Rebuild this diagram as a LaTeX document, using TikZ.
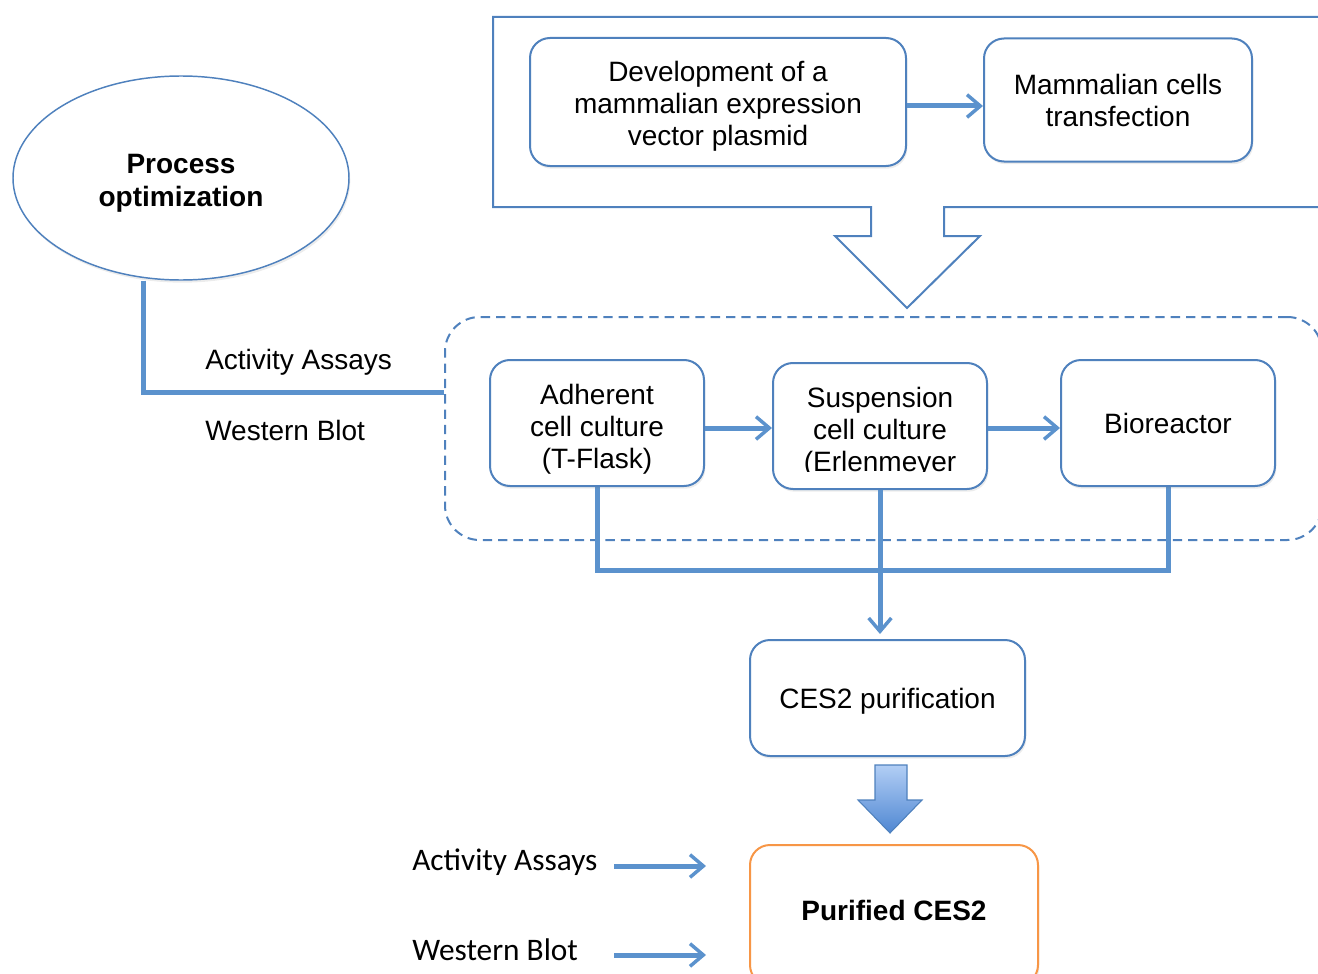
\documentclass[tikz,border=0pt]{standalone}
\usepackage{fontspec}
\setmainfont{Liberation Sans}
\newfontfamily\calfont{Carlito}
\usetikzlibrary{arrows.meta,shadows,shapes.geometric}
\definecolor{bord}{RGB}{79,129,189}
\definecolor{conn}{RGB}{91,146,205}
\definecolor{orng}{RGB}{247,150,70}
\definecolor{lblue}{RGB}{178,206,245}
\definecolor{dblue}{RGB}{79,135,210}
\begin{document}
\begin{tikzpicture}[x=0.75pt,y=-0.75pt,
 sz/.style 2 args={minimum width=#1*0.75pt,minimum height=#2*0.75pt},
 txt/.style={font=\fontsize{21}{24}\selectfont},
 btxt/.style={font=\bfseries\fontsize{21}{25}\selectfont},
 shd/.style={drop shadow={shadow xshift=1pt,shadow yshift=-2pt,opacity=0.15}},
 box/.style={draw=bord,line width=1.5pt,rounded corners=15pt,fill=white,align=center,inner sep=0pt,txt,shd},
 btext/.style={txt,align=center,inner sep=0pt},
 cline/.style={draw=conn,line width=3.75pt},
 arr/.style={cline,-{Straight Barb[length=10pt,width=17pt,line width=2.6pt]}},
 lbl/.style={txt,anchor=west,inner sep=0pt},
 clbl/.style={font=\calfont\fontsize{23.5}{28}\selectfont,anchor=west,inner sep=0pt},
]
\useasboundingbox (0,0) rectangle (1318,974);
\clip (0,0) rectangle (1318,974);

% top frame with hollow arrow
\draw[bord,line width=1.5pt] (1340,17) -- (493,17) -- (493,207) -- (871,207) -- (871,236) -- (835,236) -- (907,308) -- (980,236) -- (944,236) -- (944,207) -- (1340,207);

\node[box,sz={376}{128}] (dev) at (718,102) {};
\node[btext] (devT) at (718,106) {Development of a\\mammalian expression\\vector plasmid};
\node[box,sz={268}{123}] (mam) at (1118,100) {Mammalian cells\\transfection};
\draw[arr] (dev.east |- 0,106) -- (mam.west |- 0,106);

% process optimization
\node[draw=bord,line width=1.1pt,ellipse,sz={336}{204},inner sep=0pt,fill=white,shd] (ell) at (181,178) {};
\node[btxt,align=center,inner sep=0pt] (ellT) at (181,183) {Process\\optimization};

% dashed group
\node[draw=bord,line width=1.5pt,dash pattern=on 7pt off 4.5pt,rounded corners=26pt,sz={877}{223}] (grp) at (883.5,428.5) {};

\draw[cline] ([xshift=-28.5pt]ell.south) |- (grp.west |- 0,392);
\node[lbl] (aa1) at (205,362) {Activity Assays};
\node[lbl] (wb1) at (205,430) {Western Blot};

% culture stages
\coordinate (j) at (880,570);
\draw[cline] (597,480) |- (j) -| (1168,480);
\node[box,sz={214}{126}] (adh) at (597,423) {};
\node[btext] (adhT) at (597,429) {Adherent\\cell culture\\(T-Flask)};
\node[box,sz={214}{126}] (sus) at (880,426) {};
\begin{scope}
\clip (773,363) rectangle (987,471);
\node[btext] (susT) at (880,432) {Suspension\\cell culture\\(Erlenmeyer};
\end{scope}
\node[box,sz={214}{126}] (bio) at (1168,423) {Bioreactor};
\draw[arr] (adh.east |- 0,428) -- (sus.west |- 0,428);
\draw[arr] (sus.east |- 0,428) -- (bio.west |- 0,428);

\node[box,sz={275}{116}] (ces) at (887.5,698) {};
\node[btext] (cesT) at (887.5,701) {CES2 purification};
\draw[arr] (sus.south) -- (sus.south |- 0,634);

% block arrow
\shade[top color=lblue,bottom color=dblue,draw=bord,line width=0.8pt] (875,765) -- (907,765) -- (907,800) -- (922,800) -- (890,833) -- (858,800) -- (875,800) -- cycle;

\node[box,draw=orng,sz={288}{140}] (pur) at (894,915) {};
\node[btxt,inner sep=0pt] (purT) at (894,910) {Purified CES2};

\node[clbl] (aa2) at (412,862) {Activity Assays};
\node[clbl] (wb2) at (412,950) {Western Blot};
\draw[arr] (pur.west |- 0,866) ++(-135,0) -- ++(92,0);
\draw[arr] (pur.west |- 0,955) ++(-135,0) -- ++(92,0);
\end{tikzpicture}
\end{document}
